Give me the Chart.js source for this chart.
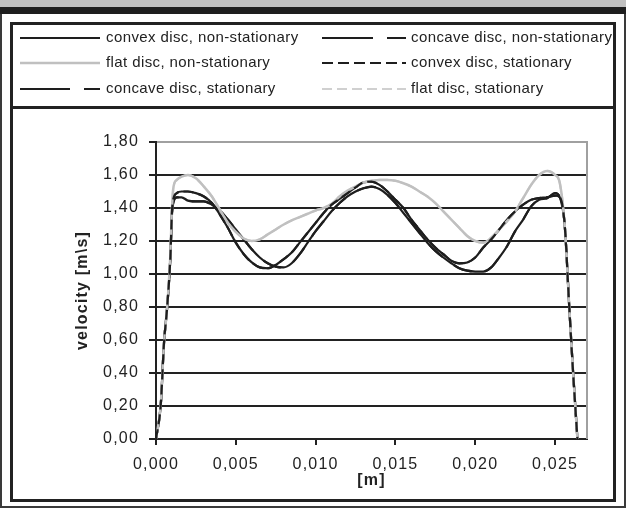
<!DOCTYPE html>
<html><head><meta charset="utf-8">
<script src="https://cdn.jsdelivr.net/npm/chart.js@4.4.1/dist/chart.umd.min.js"></script>
<style>
html,body{margin:0;padding:0;background:#fff;}
#wrap{position:relative;width:626px;height:508px;overflow:hidden;background:#fff;}
#bandG{position:absolute;left:0;top:0;width:626px;height:7px;background:#c0c0c0;}
#bandB{position:absolute;left:0;top:7px;width:626px;height:7px;background:#1e1e1e;}
#edge{position:absolute;left:0;top:14px;width:622px;height:492px;border:2px solid #3a3a3a;border-top:none;}
#frame{position:absolute;left:10px;top:22px;width:600px;height:474px;border:3px solid #222;}
#legbox{position:absolute;left:10px;top:22px;width:600px;height:81px;border:3px solid #222;}
canvas{position:absolute;left:0;top:0;}
</style></head>
<body>
<div id="wrap">
<div id="bandG"></div><div id="bandB"></div><div id="edge"></div>
<div id="frame"></div><div id="legbox"></div>
<canvas id="c" width="626" height="508"></canvas>
</div>
<script>
// ---- data ----
const xPos = [0, 0.0003, 0.0005, 0.0007, 0.0009, 0.001, 0.0011, 0.0013, 0.0016, 0.002,
  0.0025, 0.003, 0.0035, 0.004, 0.0045, 0.005, 0.0055, 0.006, 0.0065, 0.007,
  0.0075, 0.008, 0.0085, 0.009, 0.0095, 0.010, 0.0105, 0.011, 0.0115, 0.012,
  0.0125, 0.013, 0.0135, 0.014, 0.0145, 0.015, 0.0155, 0.016, 0.0165, 0.017,
  0.0175, 0.018, 0.0185, 0.019, 0.0195, 0.020, 0.0205, 0.021, 0.0215, 0.022,
  0.0225, 0.023, 0.0235, 0.024, 0.0245, 0.025, 0.0253, 0.0256, 0.0259, 0.0261, 0.0264];

const convexNonStat = [0, 0.21, 0.58, 0.80, 1.10, 1.38, 1.46, 1.49, 1.50, 1.50,
  1.49, 1.47, 1.43, 1.36, 1.28, 1.19, 1.12, 1.07, 1.04, 1.035,
  1.055, 1.09, 1.13, 1.19, 1.25, 1.31, 1.37, 1.42, 1.455, 1.49,
  1.525, 1.555, 1.56, 1.54, 1.50, 1.45, 1.40, 1.33, 1.27, 1.21,
  1.16, 1.12, 1.08, 1.065, 1.07, 1.10, 1.16, 1.21, 1.27, 1.33,
  1.38, 1.42, 1.45, 1.46, 1.465, 1.475, 1.465, 1.30, 0.78, 0.45, 0];

const concaveNonStat = [0, 0.21, 0.58, 0.80, 1.10, 1.36, 1.44, 1.465, 1.465, 1.445,
  1.44, 1.44, 1.42, 1.385, 1.33, 1.27, 1.21, 1.15, 1.10, 1.065,
  1.045, 1.04, 1.065, 1.12, 1.19, 1.26, 1.32, 1.38, 1.43, 1.47,
  1.50, 1.52, 1.53, 1.515, 1.48, 1.43, 1.37, 1.31, 1.25, 1.19,
  1.14, 1.10, 1.065, 1.035, 1.02, 1.015, 1.015, 1.04, 1.10, 1.17,
  1.26, 1.33, 1.41, 1.45, 1.46, 1.49, 1.465, 1.30, 0.78, 0.45, 0];

const flatNonStat = [0, 0.21, 0.58, 0.80, 1.12, 1.40, 1.53, 1.57, 1.59, 1.60,
  1.58, 1.53, 1.47, 1.39, 1.31, 1.255, 1.215, 1.20, 1.21, 1.24,
  1.27, 1.30, 1.325, 1.345, 1.365, 1.385, 1.40, 1.425, 1.47, 1.505,
  1.53, 1.555, 1.565, 1.57, 1.57, 1.565, 1.55, 1.53, 1.50, 1.47,
  1.43, 1.38, 1.33, 1.28, 1.23, 1.20, 1.19, 1.22, 1.27, 1.32,
  1.38, 1.46, 1.54, 1.60, 1.625, 1.60, 1.55, 1.30, 0.78, 0.45, 0];

const convexStat = [0, 0.21, 0.58, 0.80, 1.10, 1.38, 1.46, 1.49, 1.50, 1.50,
  1.49, 1.47, 1.43, 1.36, 1.28, 1.19, 1.12, 1.07, 1.04, 1.035,
  1.055, 1.09, 1.13, 1.19, 1.25, 1.31, 1.37, 1.42, 1.455, 1.49,
  1.525, 1.555, 1.56, 1.54, 1.50, 1.45, 1.40, 1.33, 1.27, 1.21,
  1.16, 1.12, 1.08, 1.065, 1.07, 1.10, 1.16, 1.21, 1.27, 1.33,
  1.38, 1.42, 1.45, 1.46, 1.465, 1.475, 1.465, 1.30, 0.78, 0.45, 0];

const concaveStat = [0, 0.21, 0.58, 0.80, 1.10, 1.36, 1.44, 1.465, 1.465, 1.445,
  1.44, 1.44, 1.42, 1.385, 1.33, 1.27, 1.21, 1.15, 1.10, 1.065,
  1.045, 1.04, 1.065, 1.12, 1.19, 1.26, 1.32, 1.38, 1.43, 1.47,
  1.50, 1.52, 1.53, 1.515, 1.48, 1.43, 1.37, 1.31, 1.25, 1.19,
  1.14, 1.10, 1.065, 1.035, 1.02, 1.015, 1.015, 1.04, 1.10, 1.17,
  1.26, 1.33, 1.41, 1.45, 1.46, 1.49, 1.465, 1.30, 0.78, 0.45, 0];

const flatStat = [0, 0.21, 0.58, 0.80, 1.12, 1.40, 1.53, 1.57, 1.59, 1.60,
  1.58, 1.53, 1.47, 1.39, 1.31, 1.255, 1.215, 1.20, 1.21, 1.24,
  1.27, 1.30, 1.325, 1.345, 1.365, 1.385, 1.40, 1.425, 1.47, 1.505,
  1.53, 1.555, 1.565, 1.57, 1.57, 1.565, 1.55, 1.53, 1.50, 1.47,
  1.43, 1.38, 1.33, 1.28, 1.23, 1.20, 1.19, 1.22, 1.27, 1.32,
  1.38, 1.46, 1.54, 1.60, 1.625, 1.60, 1.55, 1.30, 0.78, 0.45, 0];

const seriesNames = ['convex disc, non-stationary', 'concave disc, non-stationary',
  'flat disc, non-stationary', 'convex disc, stationary',
  'concave disc, stationary', 'flat disc, stationary'];
const yTickLabels = ['0,00','0,20','0,40','0,60','0,80','1,00','1,20','1,40','1,60','1,80'];
const xTickLabels = ['0,000','0,005','0,010','0,015','0,020','0,025'];
const xTitle = '[m]';
const yTitle = 'velocity [m\\s]';

// ---- chart ----
const FONT = '"Liberation Sans", Arial, sans-serif';
const BLACK = '#1e1e1e', GRAY = '#c0c0c0', LGRAY = '#d0d0d0';
const AXIS_SPACING = '1.2px', LEGEND_SPACING = '0.4px';
Chart.defaults.font.family = FONT;
Chart.defaults.font.size = 16;
Chart.defaults.color = '#222';

function pts(arr){ return xPos.map((x, i) => ({x: x, y: arr[i]})); }

const legendCols = [{x0: 20, x1: 100, tx: 106}, {x0: 322, x1: 406, tx: 411}];
const legendRows = [38, 63, 89];

const spacingPlugin = {
  id: 'spacing',
  beforeInit(chart){ chart.ctx.letterSpacing = AXIS_SPACING; },
  beforeUpdate(chart){ chart.ctx.letterSpacing = AXIS_SPACING; },
  beforeLayout(chart){ chart.ctx.letterSpacing = AXIS_SPACING; },
  beforeDraw(chart){ chart.ctx.letterSpacing = AXIS_SPACING; }
};

const framePlugin = {
  id: 'frame',
  beforeDatasetsDraw(chart){
    const {ctx, chartArea: a} = chart;
    ctx.save();
    ctx.strokeStyle = '#a0a0a0'; ctx.lineWidth = 2;
    ctx.beginPath(); ctx.moveTo(a.right, a.top - 1); ctx.lineTo(a.right, a.bottom); ctx.stroke();
    ctx.restore();
  },
  afterDraw(chart){
    const ctx = chart.ctx;
    ctx.save();
    chart.data.datasets.forEach((ds, i) => {
      const col = legendCols[i % 2], y = legendRows[Math.floor(i / 2)];
      ctx.strokeStyle = ds.borderColor;
      ctx.lineWidth = ds.borderWidth;
      ctx.setLineDash(ds.legendDash || []);
      ctx.lineDashOffset = 0;
      ctx.beginPath(); ctx.moveTo(col.x0, y); ctx.lineTo(col.x1, y); ctx.stroke();
      ctx.setLineDash([]);
      ctx.fillStyle = '#222';
      ctx.font = '15px ' + FONT;
      ctx.letterSpacing = LEGEND_SPACING;
      ctx.textBaseline = 'middle';
      ctx.textAlign = 'left';
      ctx.fillText(ds.label, col.tx, y);
    });
    ctx.restore();
  }
};

const common = {pointRadius: 0, fill: false, cubicInterpolationMode: 'monotone'};

new Chart(document.getElementById('c'), {
  type: 'line',
  data: {
    datasets: [
      Object.assign({label: seriesNames[0], data: pts(convexNonStat), borderColor: BLACK, borderWidth: 2.2, order: 5}, common),
      Object.assign({label: seriesNames[1], data: pts(concaveNonStat), borderColor: BLACK, borderWidth: 2.2, borderDash: [51, 14], legendDash: [51, 14], order: 4}, common),
      Object.assign({label: seriesNames[2], data: pts(flatNonStat), borderColor: GRAY, borderWidth: 2.5, order: 1}, common),
      Object.assign({label: seriesNames[3], data: pts(convexStat), borderColor: BLACK, borderWidth: 2.2, borderDash: [10, 5], legendDash: [11, 5], order: 0}, common),
      Object.assign({label: seriesNames[4], data: pts(concaveStat), borderColor: BLACK, borderWidth: 2.2, borderDash: [51, 14], borderDashOffset: 33, legendDash: [50, 14], order: 3}, common),
      Object.assign({label: seriesNames[5], data: pts(flatStat), borderColor: LGRAY, borderWidth: 2.2, borderDash: [10, 5], legendDash: [10, 5], order: 2}, common)
    ]
  },
  options: {
    responsive: false,
    animation: false,
    devicePixelRatio: 1,
    events: [],
    layout: {padding: {left: 73, top: 142, right: 39, bottom: 18}},
    plugins: {legend: {display: false}, tooltip: {enabled: false}},
    scales: {
      x: {
        type: 'linear', min: 0, max: 0.027,
        ticks: {stepSize: 0.005, includeBounds: false, padding: 10, maxRotation: 0, autoSkip: false,
                color: '#222', font: {size: 16}, callback: (v, i) => xTickLabels[i]},
        grid: {drawOnChartArea: false, drawTicks: true, tickLength: 6, color: '#222', lineWidth: 2},
        border: {display: true, color: '#222', width: 2},
        title: {display: true, text: xTitle, color: '#222', font: {size: 16, weight: 'bold'}, padding: {top: 0, bottom: 0}},
        afterFit(s){ s.height = 51; }
      },
      y: {
        type: 'linear', min: 0, max: 1.8,
        ticks: {stepSize: 0.2, padding: 10, color: '#222', font: {size: 16}, callback: (v, i) => yTickLabels[i]},
        grid: {color: (c) => (c.tick && Math.abs(c.tick.value - 1.8) < 1e-6) ? '#a0a0a0' : '#222',
               tickColor: '#222', lineWidth: 2, tickLength: 7},
        border: {display: true, color: '#222', width: 2},
        title: {display: true, text: yTitle, color: '#222', font: {size: 16, weight: 'bold'}, padding: {top: 0, bottom: 0}},
        afterFit(s){ s.width = 83; }
      }
    }
  },
  plugins: [spacingPlugin, framePlugin]
});
</script>
</body></html>
